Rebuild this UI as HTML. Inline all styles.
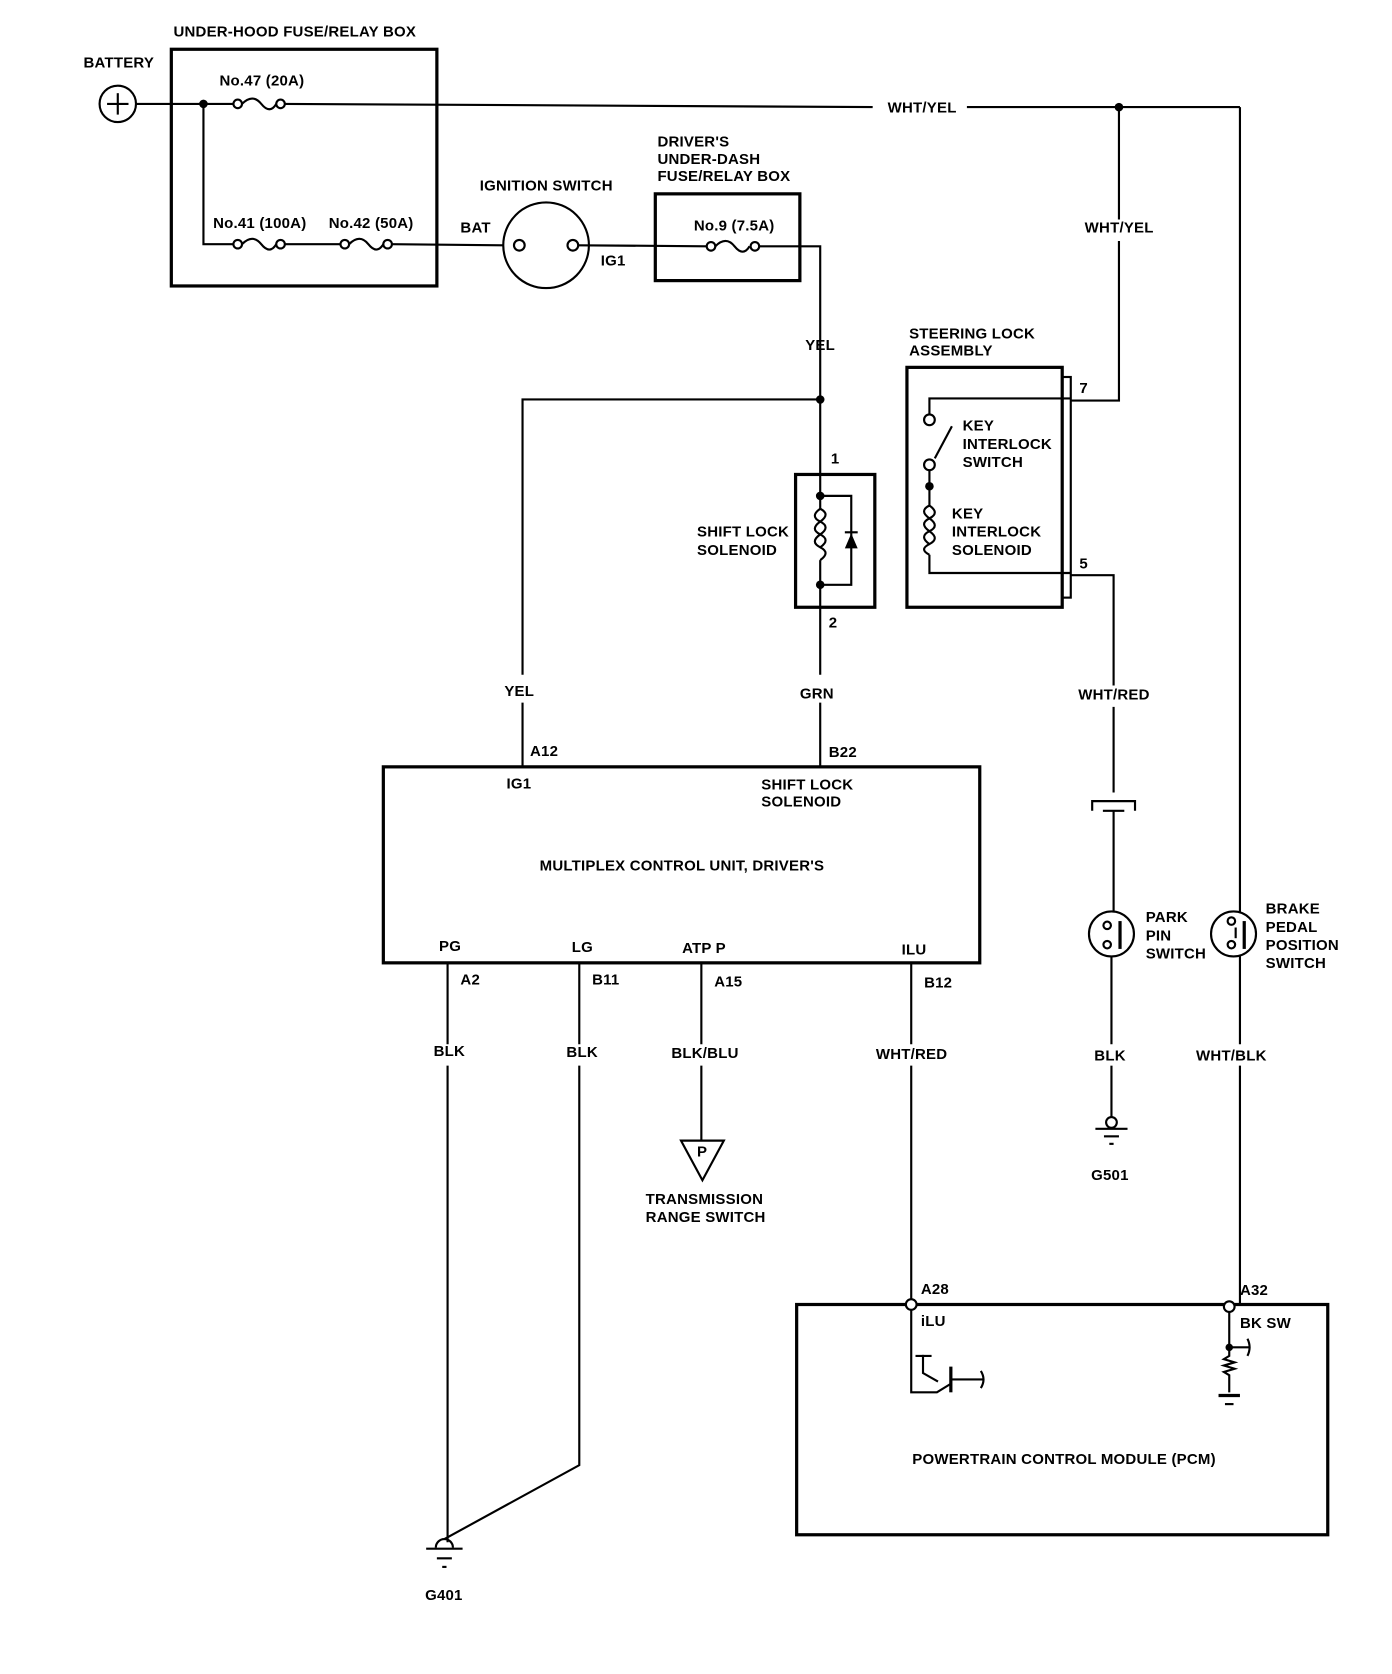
<!DOCTYPE html>
<html><head><meta charset="utf-8"><style>
html,body{margin:0;padding:0;background:#fff;}
svg{display:block;}
text{font-family:"Liberation Sans",sans-serif;font-weight:bold;font-size:14px;fill:#000;letter-spacing:0.2px;}
</style></head><body>
<svg width="1392" height="1674" viewBox="0 0 1300 1563" preserveAspectRatio="none" xmlns="http://www.w3.org/2000/svg">
<g fill="none" stroke="#000" stroke-width="2">
<circle cx="110" cy="97" r="17"/>
<line x1="100" y1="97" x2="120" y2="97"/><line x1="110" y1="87" x2="110" y2="107"/>
<rect x="160" y="46" width="248" height="221" stroke-width="3"/>
<polyline points="127,97 218,97"/>
<path d="M226,97 q10,-10 18,0 q8,10 14,0"/>
<circle cx="222" cy="97" r="4"/><circle cx="262" cy="97" r="4"/>
<line x1="266" y1="97" x2="815" y2="100"/>
<line x1="903" y1="100" x2="1158" y2="100"/>
<line x1="1158" y1="100" x2="1158" y2="852"/>
<line x1="1158" y1="892" x2="1158" y2="975"/>
<line x1="1158" y1="995" x2="1158" y2="1218"/>
<polyline points="190,97 190,228 218,228"/>
<path d="M226,228 q10,-10 18,0 q8,10 14,0"/>
<circle cx="222" cy="228" r="4"/><circle cx="262" cy="228" r="4"/>
<line x1="266" y1="228" x2="318" y2="228"/>
<path d="M326,228 q10,-10 18,0 q8,10 14,0"/>
<circle cx="322" cy="228" r="4"/><circle cx="362" cy="228" r="4"/>
<line x1="366" y1="228" x2="470" y2="229"/>
<circle cx="510" cy="229" r="40"/>
<circle cx="485" cy="229" r="5"/><circle cx="535" cy="229" r="5"/>
<line x1="540" y1="229" x2="660" y2="230"/>
<rect x="612" y="181" width="135" height="81" stroke-width="3"/>
<path d="M668,230 q10,-10 18,0 q8,10 14,0"/>
<circle cx="664" cy="230" r="4"/><circle cx="705" cy="230" r="4"/>
<polyline points="709,230 766,230 766,443"/>
<polyline points="766,373 488,373 488,630"/>
<line x1="488" y1="656" x2="488" y2="716"/>
<rect x="743" y="443" width="74" height="124" stroke-width="3"/>
<line x1="766" y1="443" x2="766" y2="475"/>
<path d="M766,475 q10,5 0,12 q-10,-5 0,-12 M766,487 q10,5 0,12 q-10,-5 0,-12 M766,499 q10,5 0,12 q-10,-5 0,-12 M766,511 q10,5 0,12"/>
<line x1="766" y1="523" x2="766" y2="630"/>
<polyline points="766,463 795,463 795,546 766,546"/>
<line x1="766" y1="656" x2="766" y2="716"/>
<rect x="358" y="716" width="557" height="183" stroke-width="3"/>
<line x1="418" y1="899" x2="418" y2="975"/><line x1="418" y1="995" x2="418" y2="1440"/>
<polyline points="541,899 541,975"/><polyline points="541,995 541,1368 415,1437"/>
<line x1="655" y1="899" x2="655" y2="975"/><line x1="655" y1="995" x2="655" y2="1065"/>
<polygon points="636,1065 676,1065 656,1102"/>
<line x1="851" y1="899" x2="851" y2="975"/><line x1="851" y1="995" x2="851" y2="1214"/>
<path d="M407,1445 a8,8 0 0 1 16,0"/>
<line x1="398" y1="1446" x2="432" y2="1446"/><line x1="408" y1="1455" x2="422" y2="1455"/><line x1="413" y1="1463" x2="417" y2="1463"/>
<rect x="744" y="1218" width="496" height="215" stroke-width="3"/>
<polyline points="851,1223 851,1300 875,1300 888,1292"/>
<polyline points="862,1265 862,1282 876,1290"/>
<line x1="855" y1="1266" x2="870" y2="1266"/>
<line x1="888" y1="1276" x2="888" y2="1300" stroke-width="3"/>
<line x1="888" y1="1288" x2="918" y2="1288"/>
<path d="M916,1280 q5,8 0,16"/>
<line x1="1148" y1="1225" x2="1148" y2="1258"/>
<line x1="1148" y1="1258" x2="1166" y2="1258"/><path d="M1165,1250 q4,8 0,16"/>
<path d="M1148,1258 l0,8 l-5,3 l10,3 l-10,3 l10,3 l-10,3 l5,3 l0,16"/>
<line x1="1138" y1="1303" x2="1158" y2="1303" stroke-width="3"/><line x1="1144" y1="1311" x2="1152" y2="1311"/>
<rect x="847" y="343" width="145" height="224" stroke-width="3"/>
<rect x="992" y="352" width="8" height="206"/>
<polyline points="1000,374 1045,374 1045,225"/><line x1="1045" y1="205" x2="1045" y2="100"/>
<polyline points="1000,537 1040,537 1040,640"/><line x1="1040" y1="660" x2="1040" y2="740"/>
<polyline points="1000,372 868,372 868,387"/>
<circle cx="868" cy="392" r="5"/>
<line x1="873" y1="428" x2="889" y2="398"/>
<circle cx="868" cy="434" r="5"/>
<line x1="868" y1="439" x2="868" y2="472"/>
<path d="M868,472 q-10,5 0,12 q10,-5 0,-12 M868,484 q-10,5 0,12 q10,-5 0,-12 M868,496 q-10,5 0,12 q10,-5 0,-12 M868,508 q-10,5 0,10"/>
<polyline points="868,518 868,535 1000,535"/>
<polyline points="1020,757 1020,748 1060,748 1060,757"/>
<line x1="1030" y1="757" x2="1050" y2="757"/>
<line x1="1040" y1="757" x2="1040" y2="852"/>
<circle cx="1038" cy="872" r="21"/>
<circle cx="1034" cy="864" r="3.5"/><circle cx="1034" cy="882" r="3.5"/>
<line x1="1046" y1="860" x2="1046" y2="886" stroke-width="3"/>
<line x1="1038" y1="893" x2="1038" y2="975"/><line x1="1038" y1="995" x2="1038" y2="1043"/>
<circle cx="1038" cy="1048" r="5"/>
<line x1="1023" y1="1054" x2="1053" y2="1054"/><line x1="1031" y1="1061" x2="1045" y2="1061"/><line x1="1036" y1="1068" x2="1040" y2="1068"/>
<circle cx="1152" cy="872" r="21"/>
<circle cx="1150" cy="860" r="3.5"/><circle cx="1150" cy="882" r="3.5"/>
<line x1="1154" y1="866" x2="1154" y2="876"/>
<line x1="1162" y1="860" x2="1162" y2="886" stroke-width="3"/>
</g>
<g fill="#000">
<circle cx="190" cy="97" r="4"/><circle cx="1045" cy="100" r="4"/>
<circle cx="766" cy="373" r="4"/><circle cx="766" cy="463" r="4"/><circle cx="766" cy="546" r="4"/>
<circle cx="868" cy="454" r="4"/><circle cx="1148" cy="1258" r="3.5"/>
<polygon points="789,512 801,512 795,498"/><rect x="789" y="496" width="12" height="2"/>
</g>
<g fill="#fff" stroke="#000" stroke-width="2">
<circle cx="851" cy="1218" r="5"/><circle cx="1148" cy="1220" r="5"/>
</g>
<text x="162" y="34">UNDER-HOOD FUSE/RELAY BOX</text>
<text x="78" y="63">BATTERY</text>
<text x="205" y="80">No.47 (20A)</text>
<text x="199" y="213">No.41 (100A)</text>
<text x="307" y="213">No.42 (50A)</text>
<text x="430" y="217">BAT</text>
<text x="448" y="178">IGNITION SWITCH</text>
<text x="561" y="248">IG1</text>
<text x="614" y="137">DRIVER'S</text>
<text x="614" y="153">UNDER-DASH</text>
<text x="614" y="169">FUSE/RELAY BOX</text>
<text x="648" y="215">No.9 (7.5A)</text>
<text x="829" y="105">WHT/YEL</text>
<text x="1013" y="217">WHT/YEL</text>
<text x="752" y="327">YEL</text>
<text x="849" y="316">STEERING LOCK</text>
<text x="849" y="332">ASSEMBLY</text>
<text x="1008" y="367">7</text>
<text x="1008" y="531">5</text>
<text x="899" y="402">KEY</text>
<text x="899" y="419">INTERLOCK</text>
<text x="899" y="436">SWITCH</text>
<text x="889" y="484">KEY</text>
<text x="889" y="501">INTERLOCK</text>
<text x="889" y="518">SOLENOID</text>
<text x="776" y="433">1</text>
<text x="774" y="586">2</text>
<text x="651" y="501">SHIFT LOCK</text>
<text x="651" y="518">SOLENOID</text>
<text x="1007" y="653">WHT/RED</text>
<text x="471" y="650">YEL</text>
<text x="747" y="652">GRN</text>
<text x="495" y="706">A12</text>
<text x="774" y="707">B22</text>
<text x="473" y="736">IG1</text>
<text x="711" y="737">SHIFT LOCK</text>
<text x="711" y="753">SOLENOID</text>
<text x="504" y="813">MULTIPLEX CONTROL UNIT, DRIVER'S</text>
<text x="410" y="888">PG</text>
<text x="534" y="889">LG</text>
<text x="637" y="890">ATP P</text>
<text x="842" y="891">ILU</text>
<text x="430" y="919">A2</text>
<text x="553" y="919">B11</text>
<text x="667" y="921">A15</text>
<text x="863" y="922">B12</text>
<text x="405" y="986">BLK</text>
<text x="529" y="987">BLK</text>
<text x="627" y="988">BLK/BLU</text>
<text x="818" y="989">WHT/RED</text>
<text x="1022" y="990">BLK</text>
<text x="1117" y="990">WHT/BLK</text>
<text x="651" y="1080" font-size="10">P</text>
<text x="603" y="1124">TRANSMISSION</text>
<text x="603" y="1141">RANGE SWITCH</text>
<text x="1070" y="861">PARK</text>
<text x="1070" y="878">PIN</text>
<text x="1070" y="895">SWITCH</text>
<text x="1182" y="853">BRAKE</text>
<text x="1182" y="870">PEDAL</text>
<text x="1182" y="887">POSITION</text>
<text x="1182" y="904">SWITCH</text>
<text x="1019" y="1102">G501</text>
<text x="397" y="1494">G401</text>
<text x="860" y="1208">A28</text>
<text x="1158" y="1209">A32</text>
<text x="860" y="1238">iLU</text>
<text x="1158" y="1240">BK SW</text>
<text x="852" y="1367">POWERTRAIN CONTROL MODULE (PCM)</text>
</svg>
</body></html>
